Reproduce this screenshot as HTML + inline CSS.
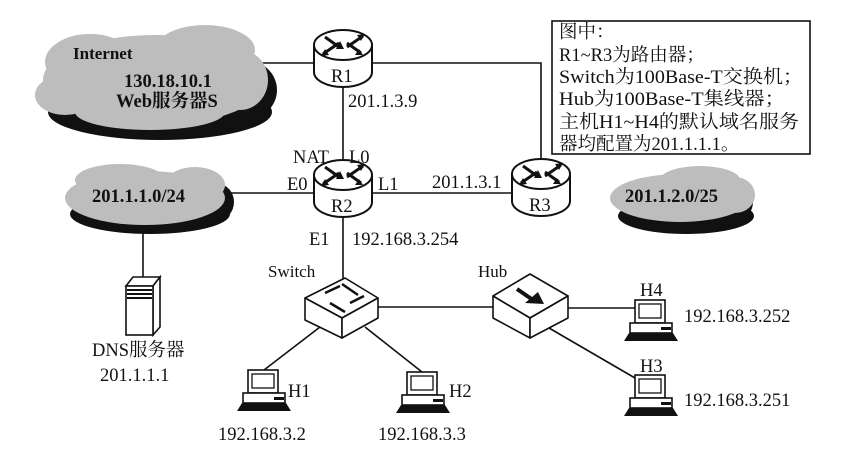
<!DOCTYPE html>
<html><head><meta charset="utf-8"><style>
html,body{margin:0;padding:0;background:#fff;}
svg{display:block;}
text{font-family:"Liberation Serif","Noto Serif CJK SC",serif;font-size:18.5px;fill:#111;}
.b{font-weight:bold;}
</style></head><body>
<svg width="854" height="459" viewBox="0 0 854 459" xmlns="http://www.w3.org/2000/svg">
<defs>
<g id="router">
<path d="M-29,-18 L-29,9 A29,15 0 0 0 29,9 L29,-18" fill="#fff" stroke="#111" stroke-width="2"/>
<ellipse cx="0" cy="-18" rx="29" ry="15" fill="#fff" stroke="#111" stroke-width="2"/>
<g stroke="#111" stroke-width="3" fill="none">
<line x1="-20" y1="-9" x2="-4" y2="-20"/><line x1="4" y1="-16" x2="20" y2="-27"/>
<line x1="-18" y1="-26" x2="-4" y2="-16"/><line x1="4" y1="-20" x2="18" y2="-10"/>
</g>
<g fill="#111">
<polygon points="-22,-7 -14,-8 -18,-14"/><polygon points="22,-29 14,-28 18,-22"/>
<polygon points="-7,-14 -3,-22 1,-14"/><polygon points="20,-8 12,-8 16,-14"/>
</g>
</g>
<g id="pc">
<rect x="0" y="0" width="30" height="23" fill="#fff" stroke="#111" stroke-width="1.6"/>
<rect x="4" y="4" width="22" height="14" fill="#fff" stroke="#111" stroke-width="1.3"/>
<rect x="-5" y="23" width="42" height="10" fill="#fff" stroke="#111" stroke-width="1.6"/>
<rect x="26" y="27" width="10" height="3" fill="#111"/>
<polygon points="-11,41 -6,33 38,33 43,41" fill="#111"/>
</g>
</defs>

<g stroke="#111" stroke-width="1.6" fill="none">
<line x1="262" y1="63" x2="315" y2="63"/>
<polyline points="372,63 541,63 541,162"/>
<line x1="343" y1="80" x2="343" y2="280"/>
<line x1="225" y1="193" x2="314" y2="193"/>
<line x1="372" y1="193" x2="513" y2="193"/>
<line x1="143" y1="232" x2="143" y2="278"/>
<line x1="378" y1="307" x2="493" y2="307"/>
<line x1="568" y1="308" x2="635" y2="308"/>
<line x1="549" y1="328" x2="635" y2="378"/>
<line x1="320" y1="327" x2="264" y2="370"/>
<line x1="365" y1="327" x2="422" y2="372"/>
</g>

<g fill="#111">
<ellipse cx="160" cy="112" rx="112" ry="28"/>
<ellipse cx="245" cy="90" rx="32" ry="30"/>
</g>
<g fill="#bdbdbd">
<ellipse cx="155" cy="80" rx="112" ry="45"/>
<ellipse cx="90" cy="62" rx="45" ry="28"/>
<ellipse cx="205" cy="50" rx="50" ry="25"/>
<ellipse cx="240" cy="80" rx="28" ry="30"/>
<ellipse cx="65" cy="95" rx="30" ry="20"/>
<ellipse cx="150" cy="112" rx="75" ry="18"/>
</g>
<g fill="#111">
<ellipse cx="150" cy="214" rx="80" ry="20"/>
<ellipse cx="218" cy="202" rx="16" ry="18"/>
</g>
<g fill="#bdbdbd">
<ellipse cx="145" cy="198" rx="80" ry="27"/>
<ellipse cx="120" cy="180" rx="45" ry="16"/>
<ellipse cx="195" cy="185" rx="30" ry="18"/>
</g>
<g fill="#111">
<ellipse cx="686" cy="216" rx="68" ry="18"/>
<ellipse cx="737" cy="202" rx="16" ry="18"/>
</g>
<g fill="#bdbdbd">
<ellipse cx="680" cy="198" rx="70" ry="24"/>
<ellipse cx="700" cy="180" rx="40" ry="14"/>
<ellipse cx="735" cy="195" rx="20" ry="18"/>
</g>

<use href="#router" transform="translate(343,63)"/>
<use href="#router" transform="translate(343,193)"/>
<use href="#router" transform="translate(541,192)"/>

<g stroke="#111" stroke-width="1.6" fill="#fff">
<polygon points="126,286 133,277 160,277 153,286"/>
<polygon points="153,286 160,277 160,327 153,335"/>
<rect x="126" y="286" width="27" height="49"/>
</g>
<g fill="#111"><rect x="127" y="289" width="25" height="2"/><rect x="127" y="293" width="25" height="2"/><rect x="127" y="297" width="25" height="2"/></g>

<g stroke="#111" stroke-width="1.6" fill="#fff" stroke-linejoin="round">
<polygon points="305,298 345,278 378,298 342,318"/>
<polygon points="305,298 342,318 342,338 305,320"/>
<polygon points="342,318 378,298 378,318 342,338"/>
</g>
<g stroke="#111" stroke-width="2.5" fill="none">
<line x1="325" y1="293" x2="340" y2="286"/><line x1="342" y1="284" x2="358" y2="295"/>
<line x1="330" y1="303" x2="345" y2="312"/><line x1="350" y1="303" x2="364" y2="296"/>
</g>
<g stroke="#111" stroke-width="1.6" fill="#fff" stroke-linejoin="round">
<polygon points="493,296 530,274 568,296 530,318"/>
<polygon points="493,296 530,318 530,338 493,318"/>
<polygon points="530,318 568,296 568,318 530,338"/>
</g>
<line x1="517" y1="289" x2="533" y2="300" stroke="#111" stroke-width="4"/>
<polygon points="525,303 544,304 538,292" fill="#111"/>

<use href="#pc" transform="translate(635,300)"/>
<use href="#pc" transform="translate(635,375)"/>
<use href="#pc" transform="translate(248,370)"/>
<use href="#pc" transform="translate(407,372)"/>

<rect x="552" y="21" width="258" height="133" fill="#fff" stroke="#111" stroke-width="1.6"/>
<g style="font-size:19px">
<text x="559" y="38">图中：</text>
<text x="559" y="61">R1~R3为路由器；</text>
<text x="559" y="83" textLength="244" lengthAdjust="spacingAndGlyphs">Switch为100Base-T交换机；</text>
<text x="559" y="105" textLength="226" lengthAdjust="spacingAndGlyphs">Hub为100Base-T集线器；</text>
<text x="559" y="128" textLength="240" lengthAdjust="spacingAndGlyphs">主机H1~H4的默认域名服务</text>
<text x="559" y="150">器均配置为201.1.1.1。</text>
</g>

<text x="73" y="59" class="b" style="font-size:17px">Internet</text>
<text x="124" y="87" class="b">130.18.10.1</text>
<text x="116" y="107" class="b">Web服务器S</text>
<text x="92" y="202" class="b">201.1.1.0/24</text>
<text x="625" y="202" class="b">201.1.2.0/25</text>
<text x="331" y="82">R1</text>
<text x="331" y="212">R2</text>
<text x="529" y="211">R3</text>
<text x="348" y="107">201.1.3.9</text>
<text x="293" y="163">NAT</text>
<text x="349" y="163">L0</text>
<text x="287" y="190">E0</text>
<text x="378" y="190">L1</text>
<text x="432" y="188">201.1.3.1</text>
<text x="309" y="245">E1</text>
<text x="352" y="245">192.168.3.254</text>
<text x="268" y="277" style="font-size:17px">Switch</text>
<text x="478" y="277" style="font-size:17px">Hub</text>
<text x="640" y="296">H4</text>
<text x="640" y="372">H3</text>
<text x="684" y="322">192.168.3.252</text>
<text x="684" y="406">192.168.3.251</text>
<text x="288" y="397">H1</text>
<text x="449" y="397">H2</text>
<text x="218" y="440">192.168.3.2</text>
<text x="378" y="440">192.168.3.3</text>
<text x="92" y="356">DNS服务器</text>
<text x="100" y="381">201.1.1.1</text>
</svg>
</body></html>
